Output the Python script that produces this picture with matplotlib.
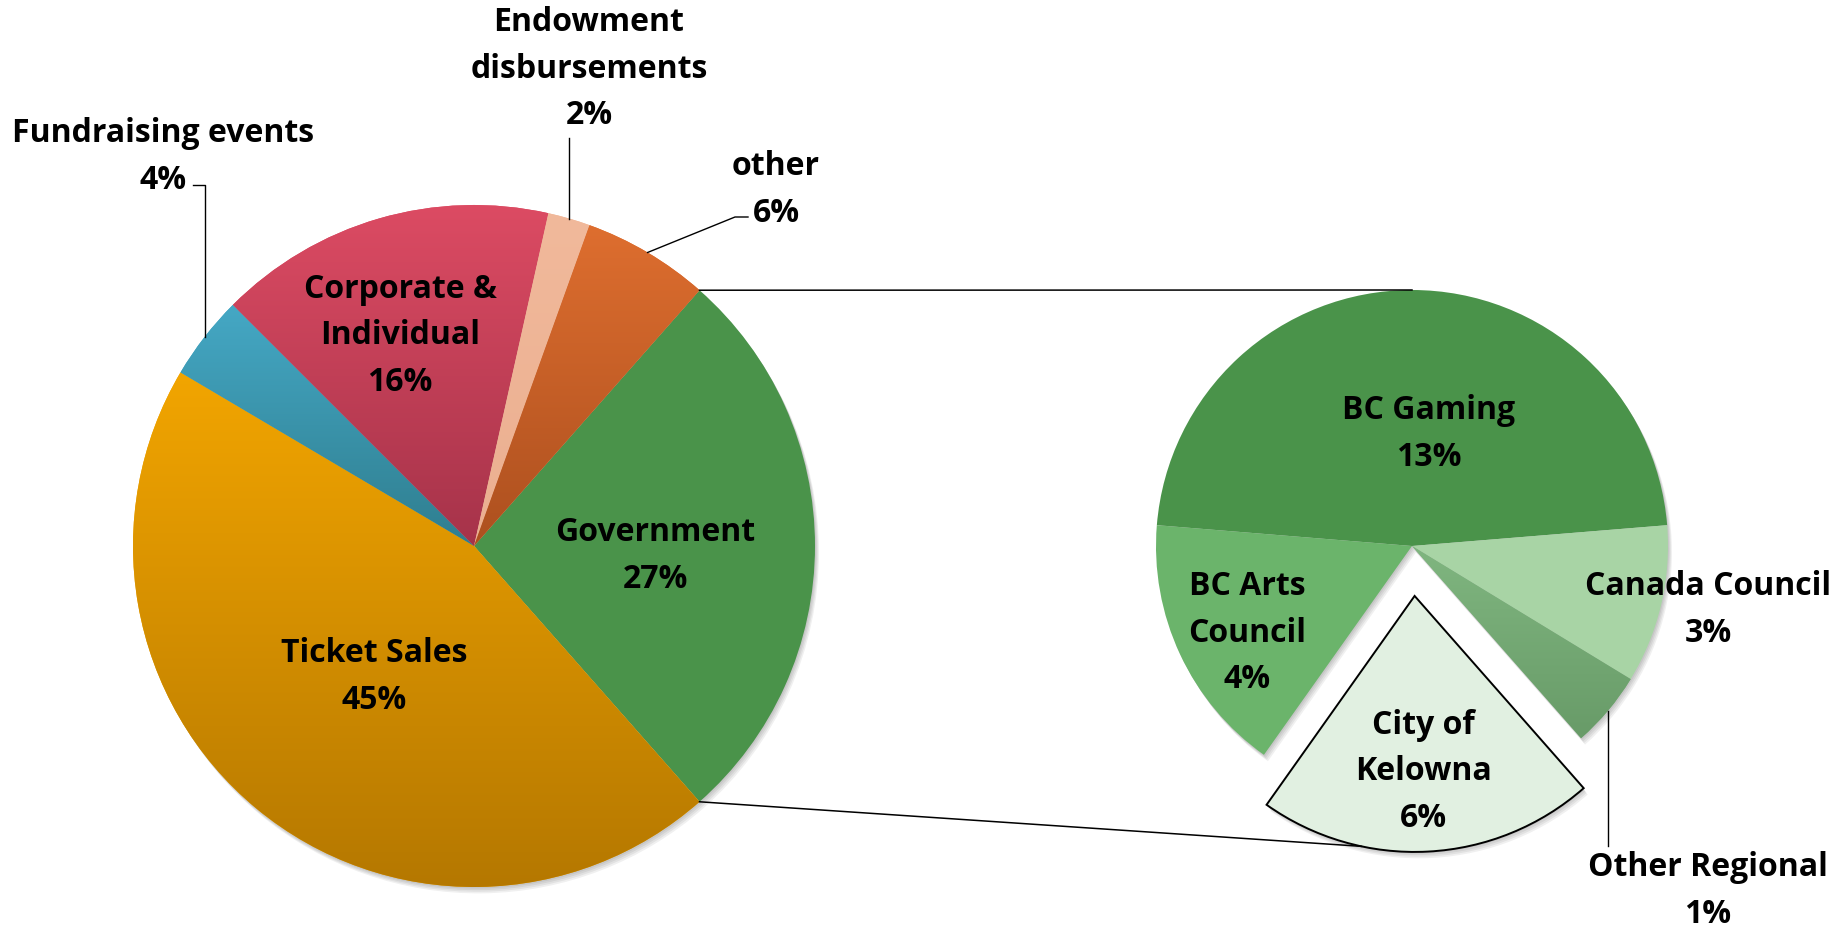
import matplotlib
matplotlib.use("Agg")
import matplotlib.pyplot as plt
import numpy as np
from matplotlib.colors import to_rgb
from matplotlib.patches import Wedge

# main pie, clockwise from the top edge of the Government wedge
main_labels = ["Government", "Ticket Sales", "Fundraising events",
               "Corporate &\nIndividual", "Endowment\ndisbursements", "other"]
main_pct = [27, 45, 4, 16, 2, 6]
main_top = ["#4A934A", "#F2A500", "#45A8C5", "#DC4B63", "#F1B99B", "#DE6E2F"]
main_bottom = ["#4A934A", "#B57800", "#2F7E8F", "#A6334A", "#EBAF90", "#AD501F"]

# Government broken down, clockwise from the left edge of BC Gaming
# (shares; the labels show them rounded)
gov_labels = ["BC Gaming", "Canada Council", "Other Regional",
              "City of\nKelowna", "BC Arts\nCouncil"]
gov_pct = [12.8, 2.7, 1.3, 5.75, 4.45]
gov_top = ["#4A934A", "#A8D4A5", "#80B680", "#E1F0E1", "#6BB46B"]
gov_bottom = ["#4A934A", "#A8D4A5", "#689B68", "#E1F0E1", "#6BB46B"]

FONT = "Open Sans"

fig = plt.figure(figsize=(18.44, 9.29), dpi=100)
ax = fig.add_axes([0, 0, 1, 1])

c1, r1 = (474, 382), 341
c2, r2 = (1412, 382), 256


def shade(w, top, bottom):
    # vertical gradient over the wedge's own box
    if top == bottom:
        return
    x0, y0, x1, y1 = w.get_path().get_extents().extents
    g = np.linspace(to_rgb(bottom), to_rgb(top), 256).reshape(256, 1, 3)
    im = ax.imshow(g, extent=(x0, x1, y0, y1), origin="lower", aspect="auto",
                   interpolation="bilinear", zorder=1.1)
    im.set_clip_path(w)


def shadow(w):
    for k in range(1, 5):
        s = Wedge((w.center[0] + k, w.center[1] - 1.6 * k), w.r, w.theta1, w.theta2,
                  facecolor="#000000", alpha=0.06, linewidth=0, zorder=0.5)
        ax.add_patch(s)


def point(w, ang):
    a = np.deg2rad(ang)
    return w.center[0] + w.r * np.cos(a), w.center[1] + w.r * np.sin(a)


def mid(w):
    return (w.theta1 + w.theta2) / 2


w1, _ = ax.pie(main_pct, colors=main_top, center=c1, radius=r1,
               startangle=main_pct[0] / 100 * 180, counterclock=False,
               frame=True, wedgeprops=dict(linewidth=0))
explode = [0, 0, 0, 50, 0]
w2, _ = ax.pie(gov_pct, colors=gov_top, center=c2, radius=r2, explode=explode,
               startangle=90 + gov_pct[0] / sum(gov_pct) * 180, counterclock=False,
               frame=True, wedgeprops=dict(linewidth=0))

for w, t, b in zip(w1, main_top, main_bottom):
    shade(w, t, b)
    shadow(w)
for w, t, b in zip(w2, gov_top, gov_bottom):
    shade(w, t, b)
    shadow(w)
w2[3].set_edgecolor("black")
w2[3].set_linewidth(1.4)
w2[3].set_zorder(1.2)

# connectors from the Government wedge to the breakdown pie
gov = w1[0]
p_top = point(gov, gov.theta2)
p_bot = point(gov, gov.theta1)
q_top = point(w2[0], 90)
q_bot = point(w2[3], -102)
ax.plot([p_top[0], q_top[0]], [p_top[1], q_top[1]], color="black", lw=1.1, zorder=2)
ax.plot([p_bot[0], q_bot[0]], [p_bot[1], q_bot[1]], color="black", lw=1.1, zorder=2)

# leader lines for the small slices
e = point(w1[2], mid(w1[2]))
ax.plot([e[0], e[0], e[0] - 12], [e[1], 743, 743], color="black", lw=1, zorder=2)
e = point(w1[4], mid(w1[4]))
ax.plot([e[0], e[0]], [e[1], 790], color="black", lw=1, zorder=2)
e = point(w1[5], mid(w1[5]))
ax.plot([e[0], 735, 748], [e[1], 711, 711], color="black", lw=1, zorder=2)
e = point(w2[2], mid(w2[2]))
ax.plot([e[0], e[0]], [e[1], 82], color="black", lw=1, zorder=2)

main_pos = [(655, 373), (374, 252), (163, 772), (400, 593), (589, 860), (776, 739)]
gov_pos = [(1429, 495), (1708, 319), (1708, 38), (1423, 157), (1247, 296)]

for lab, pct, (x, y) in zip(main_labels + gov_labels, main_pct + gov_pct,
                            main_pos + gov_pos):
    ax.text(x, y, f"{lab}\n{pct:.0f}%", ha="center", va="center", fontsize=23,
            fontweight="bold", family=FONT, linespacing=1.55, zorder=3)

ax.set_xlim(0, 1844)
ax.set_ylim(0, 929)
ax.set_aspect("auto")
ax.axis("off")
fig.savefig("out.png", dpi=100, facecolor="white")
